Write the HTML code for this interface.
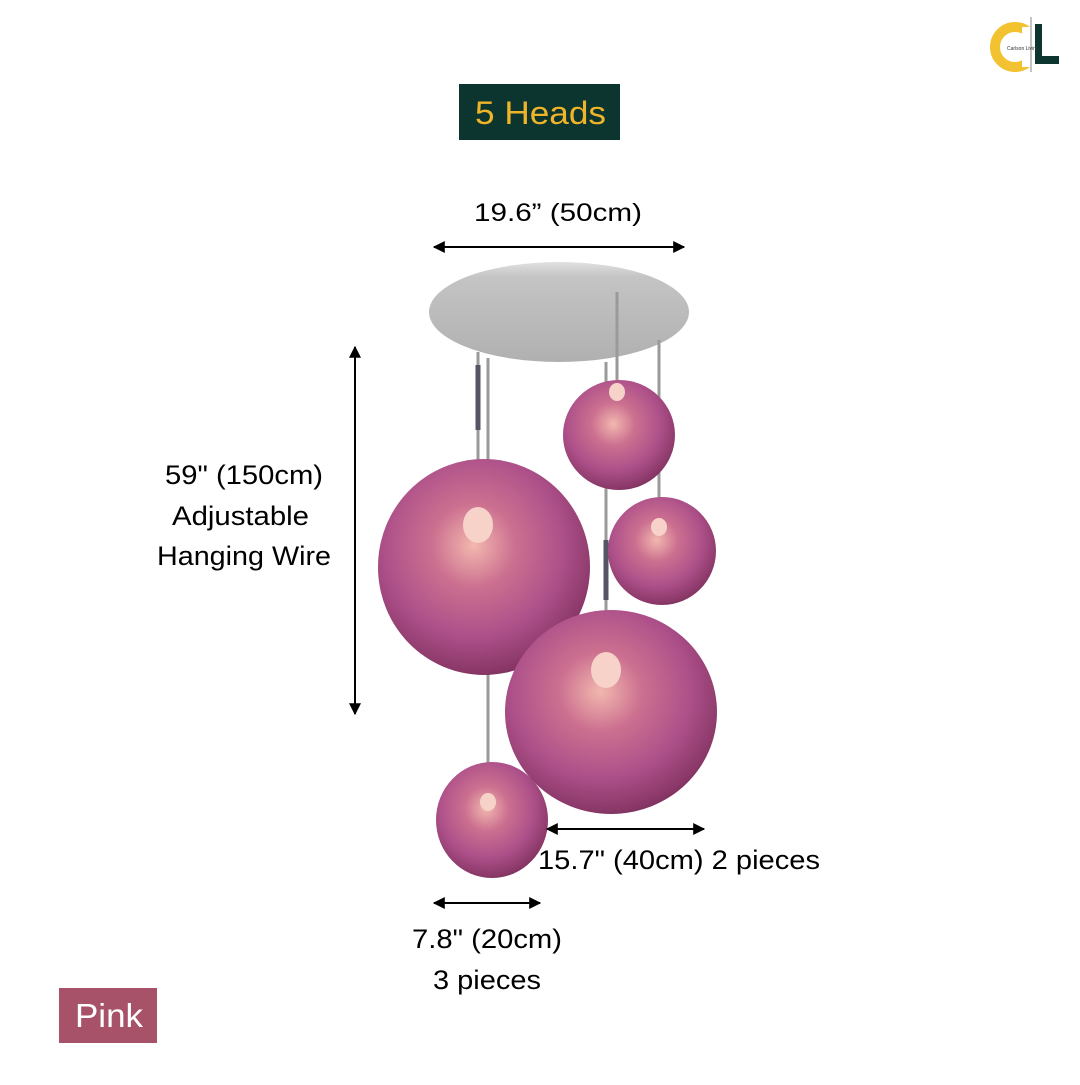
<!DOCTYPE html>
<html><head><meta charset="utf-8"><style>
body{margin:0;width:1080px;height:1080px;background:#fff;overflow:hidden;font-family:"Liberation Sans",sans-serif}
</style></head><body>
<svg width="1080" height="1080" viewBox="0 0 1080 1080" xmlns="http://www.w3.org/2000/svg" font-family="Liberation Sans, sans-serif">
<defs>
<radialGradient id="g" cx="0.45" cy="0.4" r="0.65">
<stop offset="0" stop-color="#f2b8ae"/>
<stop offset="0.3" stop-color="#cc7090"/>
<stop offset="0.65" stop-color="#ad508a"/>
<stop offset="0.9" stop-color="#8a3868"/>
<stop offset="1" stop-color="#6e2a52"/>
</radialGradient>
<linearGradient id="c" x1="0" y1="0" x2="0" y2="1">
<stop offset="0" stop-color="#e0e0e0"/><stop offset="0.15" stop-color="#c4c4c4"/><stop offset="1" stop-color="#b0b0b0"/>
</linearGradient>
<marker id="a" viewBox="0 0 10 10" refX="9" refY="5" markerWidth="6" markerHeight="6" orient="auto-start-reverse"><path d="M0,0L10,5L0,10z" fill="#000"/></marker>
</defs>
<!-- logo -->
<circle cx="1015" cy="47" r="20" fill="none" stroke="#f2c230" stroke-width="10"/>
<rect x="1022" y="27" width="14" height="40" fill="#fff"/>
<line x1="1031" y1="17" x2="1031" y2="72" stroke="#888" stroke-width="1"/>
<path d="M1035,24h7v32h17v8h-24z" fill="#0d3530"/>
<text x="1007" y="50" font-size="5" fill="#333">Carlson Living</text>
<!-- header -->
<rect x="459" y="84" width="161" height="56" fill="#0d3530"/>
<text x="475" y="124" font-size="32" fill="#f0b429" textLength="131" lengthAdjust="spacingAndGlyphs">5 Heads</text>
<text x="474" y="221" font-size="25" textLength="168" lengthAdjust="spacingAndGlyphs">19.6” (50cm)</text>
<line x1="434" y1="247" x2="684" y2="247" stroke="#000" stroke-width="2" marker-start="url(#a)" marker-end="url(#a)"/>
<line x1="355" y1="347" x2="355" y2="714" stroke="#000" stroke-width="2" marker-start="url(#a)" marker-end="url(#a)"/>
<g font-size="27" lengthAdjust="spacingAndGlyphs">
<text x="165" y="484" textLength="158" lengthAdjust="spacingAndGlyphs">59" (150cm)</text>
<text x="172" y="525" textLength="137" lengthAdjust="spacingAndGlyphs">Adjustable</text>
<text x="157" y="565" textLength="174" lengthAdjust="spacingAndGlyphs">Hanging Wire</text></g>
<!-- canopy -->
<ellipse cx="559" cy="312" rx="130" ry="50" fill="url(#c)"/>
<!-- wires -->
<g stroke="#9a9a9a" stroke-width="3">
<line x1="478" y1="352" x2="478" y2="465"/><line x1="488" y1="358" x2="488" y2="770"/>
<line x1="606" y1="362" x2="606" y2="615"/><line x1="617" y1="292" x2="617" y2="385"/>
<line x1="659" y1="340" x2="659" y2="500"/>
</g>
<g stroke="#556" stroke-width="5"><line x1="478" y1="365" x2="478" y2="430"/><line x1="606" y1="540" x2="606" y2="600"/></g>
<!-- lamps -->
<g fill="url(#g)">
<ellipse cx="484" cy="567" rx="106" ry="108"/>
<ellipse cx="619" cy="435" rx="56" ry="55"/>
<ellipse cx="662" cy="551" rx="54" ry="54"/>
<ellipse cx="611" cy="712" rx="106" ry="102"/>
<ellipse cx="492" cy="820" rx="56" ry="58"/>
</g>
<g fill="#f7d2c8">
<ellipse cx="478" cy="525" rx="15" ry="18"/><ellipse cx="606" cy="670" rx="15" ry="18"/>
<ellipse cx="617" cy="392" rx="8" ry="9"/><ellipse cx="659" cy="527" rx="8" ry="9"/><ellipse cx="488" cy="802" rx="8" ry="9"/>
</g>
<line x1="547" y1="829" x2="704" y2="829" stroke="#000" stroke-width="2" marker-start="url(#a)" marker-end="url(#a)"/>
<text x="538" y="869" font-size="27" textLength="282" lengthAdjust="spacingAndGlyphs">15.7" (40cm) 2 pieces</text>
<line x1="434" y1="903" x2="540" y2="903" stroke="#000" stroke-width="2" marker-start="url(#a)" marker-end="url(#a)"/>
<text x="412" y="948" font-size="27" textLength="150" lengthAdjust="spacingAndGlyphs">7.8" (20cm)</text>
<text x="433" y="989" font-size="27" textLength="108" lengthAdjust="spacingAndGlyphs">3 pieces</text>
<rect x="59" y="988" width="98" height="55" fill="#a8526a"/>
<text x="75" y="1027" font-size="33" fill="#fff" textLength="68" lengthAdjust="spacingAndGlyphs">Pink</text>
</svg>
</body></html>
